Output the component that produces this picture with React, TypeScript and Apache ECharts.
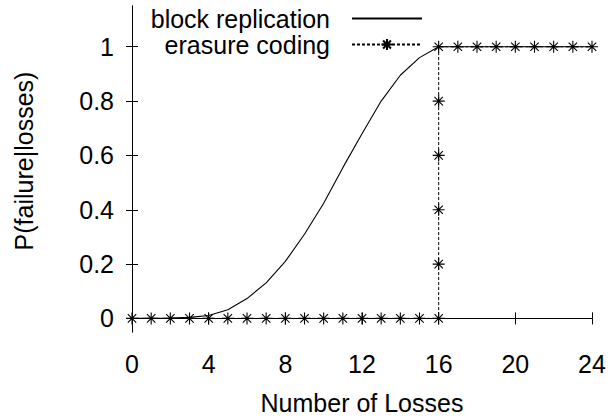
import React, { useEffect, useRef } from "react";
import * as echarts from "echarts";

const FONT = "'Liberation Sans', Arial, Helvetica, sans-serif";

const brX = [0, 1, 2, 3, 4, 5, 6, 7, 8, 9, 10, 11, 12, 13, 14, 15, 16, 17, 18, 19, 20, 21, 22, 23, 24];
const brY = [0, 0, 0.001, 0.004, 0.011, 0.032, 0.073, 0.131, 0.21, 0.31, 0.424, 0.555, 0.68, 0.8, 0.895, 0.96, 1, 1, 1, 1, 1, 1, 1, 1, 1];

const ecX = [0, 1, 2, 3, 4, 5, 6, 7, 8, 9, 10, 11, 12, 13, 14, 15, 16, 16, 16, 16, 16, 16, 17, 18, 19, 20, 21, 22, 23, 24];
const ecY = [0, 0, 0, 0, 0, 0, 0, 0, 0, 0, 0, 0, 0, 0, 0, 0, 0, 0.2, 0.4, 0.6, 0.8, 1, 1, 1, 1, 1, 1, 1, 1, 1];

const xTicks = [0, 4, 8, 12, 16, 20, 24];
const yTicks = [0, 0.2, 0.4, 0.6, 0.8, 1];

const seriesNames = ["block replication", "erasure coding"];

const STAR = "path://M5 0L5 10M0 5L10 5M1.5 1.5L8.5 8.5M8.5 1.5L1.5 8.5";
const FS = 25;

export default function App() {
  const ref = useRef<HTMLDivElement>(null);
  useEffect(() => {
    if (!ref.current) return;
    const chart = echarts.init(ref.current, undefined, { renderer: "svg" });
    const axisCommon = {
      axisLine: { show: true, lineStyle: { color: "#000", width: 1 } },
      axisTick: { show: true, inside: true, length: 6, lineStyle: { color: "#000", width: 1 } },
      splitLine: { show: false },
    };
    const legendCommon = {
      orient: "horizontal",
      align: "right",
      right: 189,
      padding: 0,
      itemWidth: 70,
      itemHeight: 14,
      textStyle: { fontFamily: FONT, fontSize: FS, color: "#000", padding: [0, 17, 0, 0] },
    };
    chart.setOption({
      animation: false,
      backgroundColor: "#fff",
      grid: { left: 132, right: 20, top: 6, bottom: 78, containLabel: false },
      legend: [
        { ...legendCommon, top: 6, data: [seriesNames[0]], itemStyle: { opacity: 0 } },
        { ...legendCommon, top: 32, data: [seriesNames[1]] },
      ],
      xAxis: [
        {
          type: "value",
          min: 0,
          max: 24,
          interval: 4,
          position: "bottom",
          ...axisCommon,
          axisLabel: {
            customValues: xTicks,
            margin: 19,
            color: "#000",
            fontFamily: FONT,
            fontSize: FS,
          },
          axisTick: { ...axisCommon.axisTick, customValues: xTicks },
          name: "Number of Losses",
          nameLocation: "middle",
          nameGap: 58,
          nameTextStyle: { fontFamily: FONT, fontSize: FS, color: "#000" },
        },
        {
          type: "value",
          min: 0,
          max: 24,
          interval: 4,
          position: "top",
          ...axisCommon,
          axisLabel: { show: false },
          axisTick: { ...axisCommon.axisTick, customValues: xTicks },
        },
      ],
      yAxis: [
        {
          type: "value",
          min: -0.05,
          max: 1.15,
          position: "left",
          ...axisCommon,
          axisLabel: {
            customValues: yTicks,
            margin: 18,
            color: "#000",
            fontFamily: FONT,
            fontSize: FS,
          },
          axisTick: { ...axisCommon.axisTick, customValues: yTicks },
          name: "P(failure|losses)",
          nameLocation: "middle",
          nameGap: 96,
          nameTextStyle: { fontFamily: FONT, fontSize: FS, color: "#000", padding: [0, 0, 0, 16] },
        },
        {
          type: "value",
          min: -0.05,
          max: 1.15,
          position: "right",
          ...axisCommon,
          axisLabel: { show: false },
          axisTick: { ...axisCommon.axisTick, customValues: yTicks },
        },
      ],
      series: [
        {
          name: seriesNames[0],
          type: "line",
          data: brX.map((x, i) => [x, brY[i]]),
          showSymbol: false,
          symbol: "none",
          lineStyle: { color: "#000", width: 1.1, type: "solid" },
          itemStyle: { color: "#000" },
          clip: false,
          z: 2,
        },
        {
          name: seriesNames[1],
          type: "line",
          data: ecX.map((x, i) => [x, ecY[i]]),
          symbol: STAR,
          symbolSize: 12,
          showSymbol: true,
          showAllSymbol: true,
          lineStyle: { color: "#000", width: 1, type: [3, 2] },
          itemStyle: { color: "#000", borderColor: "#000", borderWidth: 1.1 },
          clip: false,
          z: 3,
        },
      ],
    });
    return () => chart.dispose();
  }, []);
  return (
    <div
      ref={ref}
      style={{ position: "absolute", left: 0, top: 0, width: 612, height: 420 }}
    />
  );
}
